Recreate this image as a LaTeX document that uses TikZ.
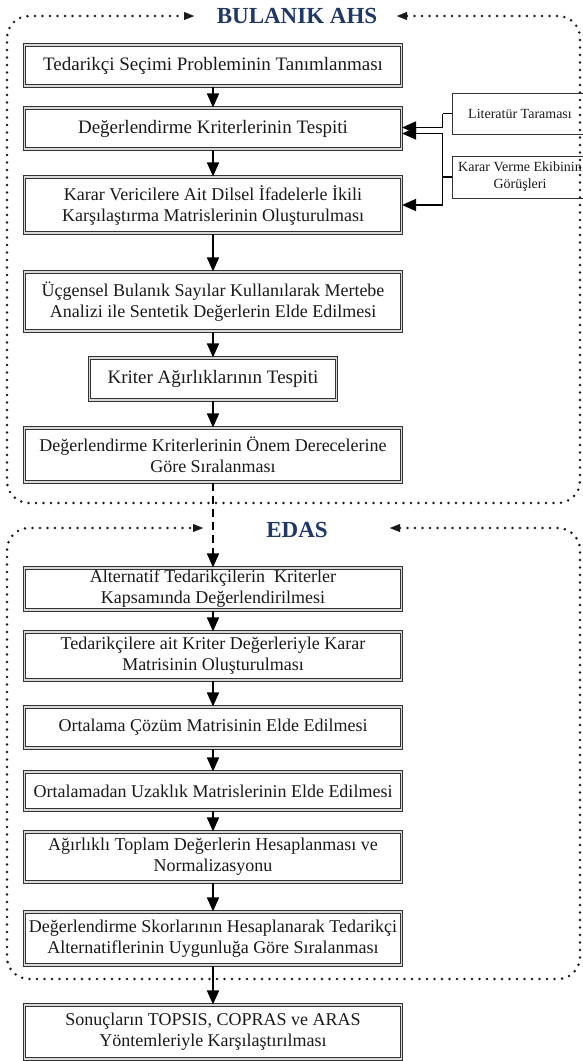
\documentclass[tikz,border=0pt]{standalone}
\usepackage{fontspec}
\setmainfont{Liberation Serif}
\usetikzlibrary{arrows.meta}
\definecolor{ahsblue}{RGB}{31,56,100}

\begin{document}
\begin{tikzpicture}[x=1pt,y=-1pt,
    box/.style={draw=black!80, line width=1.1pt, double=gray!30, double distance=1.2pt,
      minimum width=377pt, inner sep=1pt, align=center, text=black!90,
      font=\fontsize{18}{21}\selectfont},
    big/.style={font=\fontsize{19}{22}\selectfont},
    side/.style={draw=black!80, line width=0.8pt, minimum width=136pt, inner sep=1pt,
      align=center, text=black!90, font=\fontsize{14}{17}\selectfont},
    arr/.style={line width=1.6pt, -{Triangle[length=14pt,width=12pt]}},
    dots/.style={black!90, line width=2.8pt, line cap=round,
      dash pattern=on 0pt off 7.5pt, rounded corners=22pt},
    ttl/.style={text=ahsblue, font=\bfseries\fontsize{23}{26}\selectfont}]
  \useasboundingbox (0,0) rectangle (582,1061);

  % Bulanik AHS
  \node[ttl] (ahs) at (297,16) {BULANIK AHS};
  \draw[dots, {Triangle[length=10pt,width=8pt,line width=0.1pt]}-{Triangle[length=10pt,width=8pt,line width=0.1pt]}]
    (397,16) -- (580,16) -- (580,503) -- (7,503) -- (7,16) -- (194,16);

  \node[box, big, minimum height=41pt] (b1) at (213,65.5) {Tedarikçi Seçimi Probleminin Tanımlanması};
  \node[box, big, minimum height=41pt] (b2) at (213,128.5) {Değerlendirme Kriterlerinin Tespiti};
  \node[box, minimum height=56pt] (b3) at (213,205) {Karar Vericilere Ait Dilsel İfadelerle İkili\\Karşılaştırma Matrislerinin Oluşturulması};
  \node[box, minimum height=59pt] (b4) at (213,301.5) {Üçgensel Bulanık Sayılar Kullanılarak Mertebe\\Analizi ile Sentetik Değerlerin Elde Edilmesi};
  \node[box, big, minimum width=247pt, minimum height=42pt] (b5) at (213,379) {Kriter Ağırlıklarının Tespiti};
  \node[box, minimum height=54pt] (b6) at (213,455) {Değerlendirme Kriterlerinin Önem Derecelerine\\Göre Sıralanması};

  \node[side, minimum height=41pt] (lit) at (520,113.5) {Literatür Taraması};
  \node[side, minimum height=42pt] (kvg) at (520,177) {Karar Verme Ekibinin\\Görüşleri};

  \draw[line width=1.2pt] (lit.west) -- ++(-9,0) coordinate (j1);
  \draw[line width=1.2pt] (kvg.west) -- ++(-9,0) coordinate (j2);
  \draw[arr] (j1) |- ([yshift=1pt]b2.east);
  \draw[arr] (j2) |- ([yshift=-5pt]b2.east);
  \draw[arr] (j2) |- (b3.east);

  % EDAS
  \node[ttl] (edas) at (297,530) {EDAS};
  \draw[dots, {Triangle[length=10pt,width=8pt,line width=0.1pt]}-{Triangle[length=10pt,width=8pt,line width=0.1pt]}]
    (390,528) -- (580,528) -- (580,979) -- (7,979) -- (7,528) -- (203,528);

  \node[box, minimum height=42pt] (b7) at (213,589) {Alternatif Tedarikçilerin~ Kriterler\\Kapsamında Değerlendirilmesi};
  \node[box, minimum height=48pt] (b8) at (213,656) {Tedarikçilere ait Kriter Değerleriyle Karar\\Matrisinin Oluşturulması};
  \node[box, minimum height=41pt] (b9) at (213,727.5) {Ortalama Çözüm Matrisinin Elde Edilmesi};
  \node[box, minimum height=38pt] (b10) at (213,791) {Ortalamadan Uzaklık Matrislerinin Elde Edilmesi};
  \node[box, minimum height=50pt] (b11) at (213,857) {Ağırlıklı Toplam Değerlerin Hesaplanması ve\\Normalizasyonu};
  \node[box, minimum height=53pt] (b12) at (213,938.5) {Değerlendirme Skorlarının Hesaplanarak Tedarikçi\\Alternatiflerinin Uygunluğa Göre Sıralanması};

  \node[box, minimum height=54pt] (b13) at (213,1032) {Sonuçların TOPSIS, COPRAS ve ARAS\\Yöntemleriyle Karşılaştırılması};

  \foreach \a/\b in {b1/b2,b2/b3,b3/b4,b4/b5,b5/b6,b7/b8,b8/b9,b9/b10,b10/b11,b11/b12,b12/b13}
    \draw[arr] (\a) -- (\b);
  \draw[arr, dash pattern=on 8pt off 5pt] (b6) -- (b7);
\end{tikzpicture}
\end{document}
